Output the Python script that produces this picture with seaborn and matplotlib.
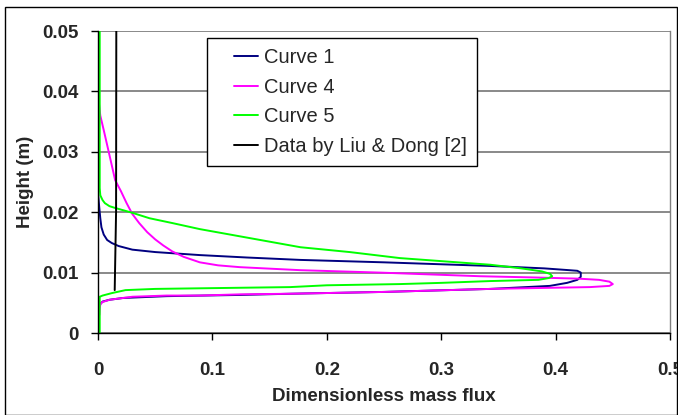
import matplotlib
matplotlib.use("Agg")
import matplotlib.pyplot as plt
import seaborn as sns
import pandas as pd
from matplotlib.lines import Line2D
from matplotlib.legend_handler import HandlerLine2D
from matplotlib.patches import Rectangle

# ---- data ----
curve1_x = [0.000, 0.001, 0.002, 0.003, 0.005, 0.008, 0.012, 0.018, 0.030, 0.050,
            0.089, 0.130, 0.177, 0.250, 0.343, 0.390, 0.412, 0.419, 0.422, 0.422,
            0.419, 0.410, 0.395, 0.343, 0.250, 0.168, 0.124, 0.060, 0.022, 0.010,
            0.004, 0.002, 0.001]
curve1_y = [0.0232, 0.0210, 0.0190, 0.0175, 0.0163, 0.0154, 0.0149, 0.0144, 0.0138, 0.0134,
            0.0129, 0.0125, 0.0121, 0.0117, 0.0111, 0.0107, 0.0104, 0.0103, 0.0100, 0.0093,
            0.0088, 0.0083, 0.0078, 0.0073, 0.0068, 0.0065, 0.0063, 0.0061, 0.0058, 0.0055,
            0.0052, 0.0048, 0.0045]

curve4_x = [0.0005, 0.002, 0.005, 0.0096, 0.015, 0.020, 0.025, 0.030, 0.036, 0.043,
            0.050, 0.057, 0.065, 0.075, 0.089, 0.105, 0.124, 0.177, 0.2465, 0.334,
            0.380, 0.420, 0.438, 0.447, 0.450, 0.447, 0.430, 0.400, 0.343, 0.250,
            0.168, 0.124, 0.089, 0.060, 0.030, 0.022, 0.010, 0.0035, 0.002, 0.0015,
            0.0012]
curve4_y = [0.0386, 0.0360, 0.0336, 0.0298, 0.0253, 0.0235, 0.0215, 0.0197, 0.0182, 0.0167,
            0.0155, 0.0145, 0.0135, 0.0126, 0.0117, 0.0112, 0.0109, 0.0104, 0.0100, 0.0094,
            0.0092, 0.0090, 0.0088, 0.0085, 0.0081, 0.0078, 0.0076, 0.0075, 0.0073, 0.0068,
            0.0065, 0.0064, 0.0062, 0.0062, 0.0060, 0.0058, 0.0055, 0.0051, 0.0047, 0.0040,
            0.0030]

curve5_x = [0.0015, 0.0015, 0.002, 0.004, 0.006, 0.010, 0.015, 0.030, 0.045, 0.065,
            0.089, 0.133, 0.177, 0.220, 0.264, 0.300, 0.343, 0.370, 0.388, 0.395,
            0.397, 0.394, 0.385, 0.343, 0.300, 0.264, 0.200, 0.168, 0.089, 0.050,
            0.024, 0.012, 0.004, 0.0015, 0.0015]
curve5_y = [0.0500, 0.0240, 0.0228, 0.0220, 0.0215, 0.0210, 0.0207, 0.0199, 0.0190, 0.0182,
            0.0172, 0.0157, 0.0142, 0.0134, 0.0124, 0.0119, 0.0113, 0.0107, 0.0102, 0.0098,
            0.0094, 0.0091, 0.0088, 0.0086, 0.0083, 0.0081, 0.0079, 0.0076, 0.0074, 0.0073,
            0.0071, 0.0066, 0.0062, 0.0060, 0.0000]

data_x = [0.0160, 0.0158, 0.0146]
data_y = [0.0500, 0.0200, 0.0071]

series_names = ["Curve 1", "Curve 4", "Curve 5", "Data by Liu & Dong [2]"]
series_colors = ["#000080", "#FF00FF", "#00FF00", "#000000"]

x_ticks = [0, 0.1, 0.2, 0.3, 0.4, 0.5]
x_tick_labels = ["0", "0.1", "0.2", "0.3", "0.4", "0.5"]
y_ticks = [0, 0.01, 0.02, 0.03, 0.04, 0.05]
y_tick_labels = ["0", "0.01", "0.02", "0.03", "0.04", "0.05"]

# ---- figure ----
sns.set_theme(style="white")
plt.rcParams["font.family"] = ["Liberation Sans", "DejaVu Sans"]

fig = plt.figure(figsize=(6.78, 4.15), dpi=100)
ax = fig.add_axes([98 / 678, (415 - 333) / 415, (670 - 98) / 678, (333 - 31) / 415])

fig.patches.append(Rectangle((5 / 678, 0.0), 672 / 678, (415 - 7) / 415,
                             transform=fig.transFigure, fill=False,
                             edgecolor="black", linewidth=1.0, zorder=0))

all_x = [curve1_x, curve4_x, curve5_x, data_x]
all_y = [curve1_y, curve4_y, curve5_y, data_y]
for name, color, xs, ys in zip(series_names, series_colors, all_x, all_y):
    df = pd.DataFrame({"x": xs, "y": ys})
    sns.lineplot(data=df, x="x", y="y", sort=False, estimator=None,
                 color=color, linewidth=1.4, label=name, ax=ax)

ax.set_xlim(0, 0.5)
ax.set_ylim(0, 0.05)
ax.set_xticks(x_ticks)
ax.set_xticklabels(x_tick_labels)
ax.set_yticks(y_ticks)
ax.set_yticklabels(y_tick_labels)

ax.yaxis.grid(True, color="#808080", linewidth=1.3)
ax.xaxis.grid(False)
ax.set_axisbelow(True)

for side in ["left", "bottom"]:
    ax.spines[side].set_color("black")
    ax.spines[side].set_linewidth(1.0)
ax.spines["top"].set_visible(False)
ax.spines["right"].set_color("#808080")
ax.spines["right"].set_linewidth(1.0)

ax.tick_params(axis="both", which="major", direction="out", length=5, width=1.0,
               color="black", bottom=True, left=True, labelsize=13.5)
ax.tick_params(axis="x", pad=16)
ax.tick_params(axis="y", pad=9)
for lab in ax.get_xticklabels() + ax.get_yticklabels():
    lab.set_fontweight("bold")

ax.set_xlabel("Dimensionless mass flux", fontsize=13.5, fontweight="bold", labelpad=6)
ax.set_ylabel("Height (m)", fontsize=13.5, fontweight="bold", labelpad=6)

handles, labels = ax.get_legend_handles_labels()
leg = ax.legend(handles, labels, loc="upper left", bbox_to_anchor=(0.19, 0.977),
                borderaxespad=0, frameon=True, fancybox=False, shadow=False,
                fontsize=14.5, handlelength=2.05, handletextpad=0.3,
                labelspacing=0.53, borderpad=0.5,
                handler_map={Line2D: HandlerLine2D(xpad=0.85)})
leg.get_frame().set_edgecolor("black")
leg.get_frame().set_linewidth(1.0)
leg.get_frame().set_facecolor("white")
leg.get_frame().set_alpha(1.0)

fig.savefig("out.png", dpi=100)
